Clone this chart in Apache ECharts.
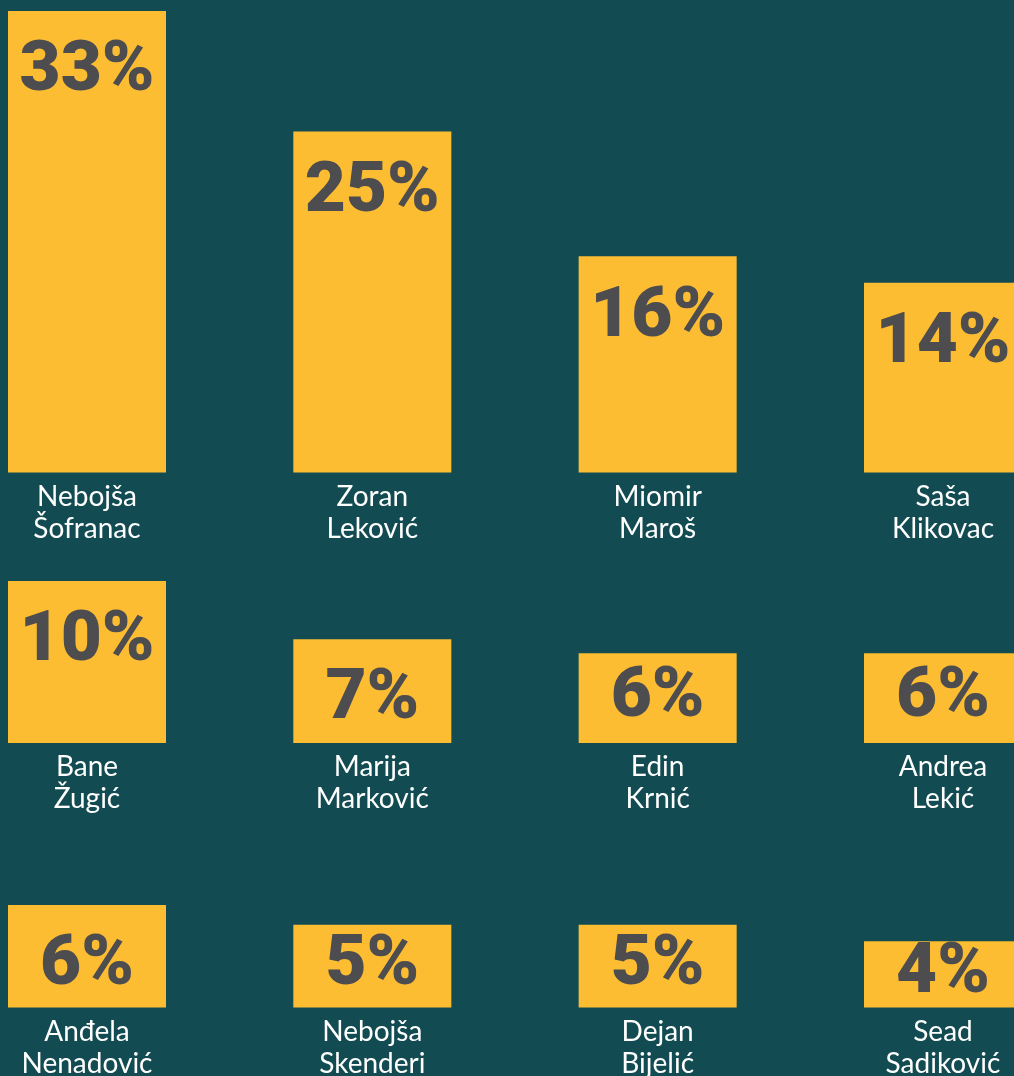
<!DOCTYPE html>
<html><head><meta charset="utf-8">
<script src="https://cdn.jsdelivr.net/npm/echarts@6/dist/echarts.min.js"></script>
<style>html,body{margin:0;padding:0;background:#124C52;}#c{width:1014px;height:1076px;}</style>
</head><body><div id="c"></div>
<script>
// Data (percent shares; labels show rounded values)
const row1Names = ['Nebojša Šofranac', 'Zoran Leković', 'Miomir Maroš', 'Saša Klikovac'];
const row1Values = [33.3, 24.6, 15.6, 13.7];
const row2Names = ['Bane Žugić', 'Marija Marković', 'Edin Krnić', 'Andrea Lekić'];
const row2Values = [10.3, 6.6, 5.7, 5.7];
const row3Names = ['Anđela Nenadović', 'Nebojša Skenderi', 'Dejan Bijelić', 'Sead Sadiković'];
const row3Values = [6.2, 5.0, 5.0, 4.0];

const rows = [
  { names: row1Names, values: row1Values },
  { names: row2Names, values: row2Values },
  { names: row3Names, values: row3Values }
];
const rowLayout = [
  { top: 11, height: 461.5 },
  { top: 581, height: 162 },
  { top: 905, height: 102.5 }
];

const grids = [], xAxes = [], yAxes = [], series = [];
rows.forEach((r, i) => {
  const L = rowLayout[i];
  const max = Math.max(...r.values);
  grids.push({ left: -55.67, width: 1141.33, top: L.top, height: L.height,
    containLabel: false, outerBoundsMode: 'none' });
  xAxes.push({
    type: 'category', gridIndex: i, data: r.names,
    axisLine: { show: false }, axisTick: { show: false }, splitLine: { show: false },
    axisLabel: {
      interval: 0, color: '#ffffff', fontFamily: 'Lato', fontSize: 28, lineHeight: 32,
      margin: 8, formatter: n => n.replace(' ', '\n')
    }
  });
  yAxes.push({ type: 'value', gridIndex: i, min: 0, max: max, show: false, splitLine: { show: false } });
  series.push({
    type: 'bar', xAxisIndex: i, yAxisIndex: i, barWidth: 158, silent: true, animation: false,
    itemStyle: { color: '#FDBD33' },
    label: {
      show: true, position: 'insideTop', distance: 26,
      formatter: p => Math.round(p.value) + '%',
      color: '#4D4D4F', fontFamily: 'Roboto', fontWeight: 900, fontSize: 71
    },
    data: r.values.map(v => ({
      value: v,
      label: { position: (v / max * L.height < 90) ? 'inside' : 'insideTop' }
    }))
  });
});

const chart = echarts.init(document.getElementById('c'));
chart.setOption({
  backgroundColor: '#124C52',
  animation: false,
  grid: grids, xAxis: xAxes, yAxis: yAxes, series: series
});
</script></body></html>
